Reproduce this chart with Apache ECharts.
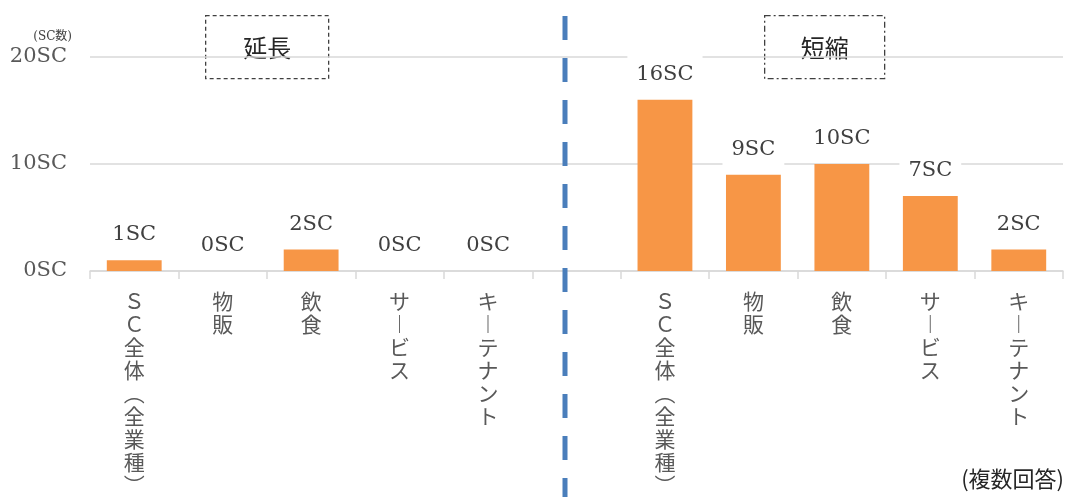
<!DOCTYPE html>
<html><head><meta charset="utf-8">
<script src="https://cdn.jsdelivr.net/npm/echarts@6/dist/echarts.min.js"></script>
<style>html,body{margin:0;padding:0;background:#fff}#c{width:1067px;height:497px}</style>
</head><body><div id="c"></div>
<script>
const categories = ['ＳＣ全体（全業種）','物販','飲食','サービス','キーテナント','','ＳＣ全体（全業種）','物販','飲食','サービス','キーテナント'];
const values = [1,0,2,0,0,'-',16,9,10,7,2];
const yTicks = {min:0, max:20, interval:10};
const unit = 'SC';
const yName = '(SC数)';
const boxLabels = ['延長','短縮'];
const note = '(複数回答)';

const NUM = '"DejaVu Serif","Noto Sans CJK JP",serif';
const CJK = '"Noto Sans CJK JP",sans-serif';
const vmap = {'（':'︵','）':'︶','ー':'︱'};
function vertical(s){ return Array.from(s).map(ch => vmap[ch] || ch).join('\n'); }

const chart = echarts.init(document.getElementById('c'), null, {renderer:'canvas'});
const option = {
  animation:false,
  backgroundColor:'#fff',
  grid:{left:90, right:4, top:57, bottom:224, containLabel:false},
  xAxis:{
    type:'category', data:categories,
    axisLine:{lineStyle:{color:'#d9d9d9', width:1.5}},
    axisTick:{show:true, length:8, lineStyle:{color:'#d9d9d9', width:1.5}},
    axisLabel:{interval:0, margin:19, color:'#595959', fontFamily:CJK, fontSize:21, lineHeight:23,
      verticalAlign:'top', formatter:v => vertical(v)}
  },
  yAxis:{
    type:'value', min:yTicks.min, max:yTicks.max, interval:yTicks.interval,
    name:yName, nameLocation:'end', nameGap:14,
    nameTextStyle:{color:'#404040', fontFamily:NUM, fontSize:12, align:'right', padding:[0,18,0,0]},
    axisLine:{show:false}, axisTick:{show:false},
    splitLine:{lineStyle:{color:'#d9d9d9', width:1.5}},
    axisLabel:{margin:23, color:'#595959', fontFamily:NUM, fontSize:21, formatter:v => v + unit}
  },
  series:[{
    type:'bar', data:values, barWidth:'62%',
    itemStyle:{color:'#F79646'},
    label:{show:true, position:'top', distance:5, formatter:p => p.value + unit,
      color:'#404040', fontFamily:NUM, fontSize:21, backgroundColor:'#fff', padding:[10,9]}
  }],
  graphic:[
    {type:'group', id:'b1', left:205, top:15, children:[
      {type:'rect', shape:{x:0,y:0,width:123,height:63}, style:{fill:'#fff', stroke:'#404040', lineWidth:1.3, lineDash:[4,3]}},
      {type:'text', x:61.5, y:32, style:{text:boxLabels[0], fill:'#262626', font:'24px '+CJK, textAlign:'center', textVerticalAlign:'middle'}}
    ]},
    {type:'group', id:'b2', left:764, top:15, children:[
      {type:'rect', shape:{x:0,y:0,width:120,height:63}, style:{fill:'#fff', stroke:'#404040', lineWidth:1.3, lineDash:[6,3,2,3]}},
      {type:'text', x:60, y:32, style:{text:boxLabels[1], fill:'#262626', font:'24px '+CJK, textAlign:'center', textVerticalAlign:'middle'}}
    ]},
    {type:'text', id:'note', right:3, top:468, style:{text:note, fill:'#262626', font:'22px '+CJK}}
  ]
};
chart.setOption(option);
const x4 = chart.convertToPixel({xAxisIndex:0}, 4);
const x5 = chart.convertToPixel({xAxisIndex:0}, 5);
const xd = x5 - 0.13*(x5 - x4);
chart.setOption({graphic:[{type:'line', id:'divider', z:100,
  shape:{x1:xd, y1:16, x2:xd, y2:497},
  style:{stroke:'#4A7EBB', lineWidth:5, lineDash:[24,18]}}]});
</script></body></html>
